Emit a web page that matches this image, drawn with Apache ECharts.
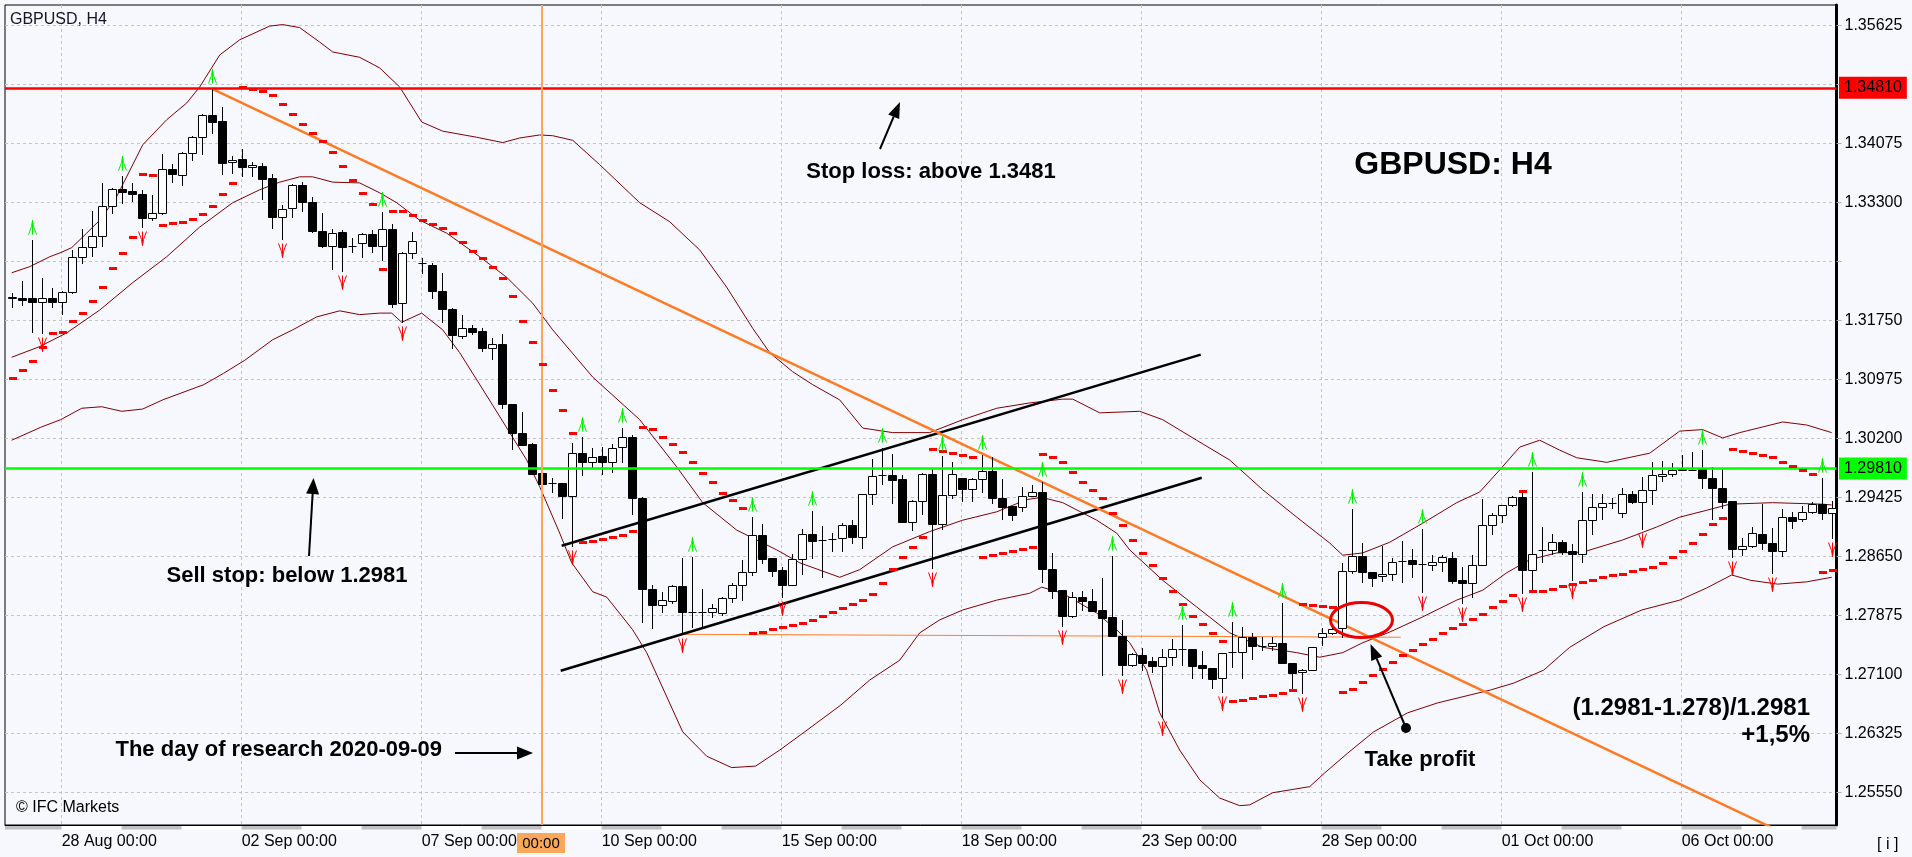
<!DOCTYPE html>
<html><head><meta charset="utf-8">
<script src="https://cdn.jsdelivr.net/npm/echarts@6/dist/echarts.min.js"></script>
<style>html,body{margin:0;padding:0;background:#f7f8fe;}#chart{width:1912px;height:857px;}</style>
</head><body><div id="chart"></div>
<script>
const FONT = '"Liberation Sans", Arial, sans-serif';

const dateTicks = [5, 23, 41, 59, 77, 95, 113, 131, 149, 167];
const dateLabels = ['28 Aug 00:00', '02 Sep 00:00', '07 Sep 00:00', '10 Sep 00:00', '15 Sep 00:00',
  '18 Sep 00:00', '23 Sep 00:00', '28 Sep 00:00', '01 Oct 00:00', '06 Oct 00:00'];
const priceGrid = [1.2555, 1.26325, 1.271, 1.27875, 1.2865, 1.29425, 1.302, 1.30975, 1.3175, 1.32525, 1.333, 1.34075, 1.3485, 1.35625];
const priceLabels = [1.2555, 1.26325, 1.271, 1.27875, 1.2865, 1.29425, 1.302, 1.30975, 1.3175, 1.333, 1.34075, 1.35625];
const dayBounds = [-1, 5, 11, 17, 23, 29, 35, 41, 47, 53, 59, 65, 71, 77, 83, 89, 95, 101, 107, 113, 119, 125, 131, 137, 143, 149, 155, 161, 167, 173, 179, 185];

const openP = [1.3205,1.3205,1.3205,1.3200,1.3205,1.3200,1.3213,1.3259,1.3272,1.3286,1.3326,1.3348,1.3345,1.3342,1.3310,1.3316,1.3374,1.3367,1.3395,1.3416,
1.3445,1.3437,1.3383,1.3387,1.3377,1.3378,1.3362,1.3311,1.3323,1.3353,1.3331,1.3293,1.3273,1.3292,1.3273,1.3277,1.3289,1.3273,1.3296,1.3198,
1.3264,1.3251,1.3248,1.3214,1.3190,1.3155,1.3166,1.3161,1.3139,1.3144,1.3065,1.3028,1.3013,1.2975,1.2962,1.2962,1.2945,1.3001,1.2989,1.2997,
1.2989,1.3009,1.3022,1.2942,1.2823,1.2802,1.2807,1.2827,1.2792,1.2792,1.2792,1.2791,1.2811,1.2828,1.2845,1.2894,1.2863,1.2847,1.2828,1.2862,
1.2895,1.2887,1.2888,1.2889,1.2907,1.2891,1.2947,1.2972,1.2972,1.2967,1.2911,1.2938,1.2974,1.2908,1.2946,1.2969,1.2954,1.2967,1.2978,1.2942,
1.2931,1.2930,1.2945,1.2950,1.2849,1.2821,1.2787,1.2812,1.2807,1.2795,1.2786,1.2761,1.2723,1.2736,1.2728,1.2722,1.2733,1.2744,1.2744,1.2723,
1.2719,1.2706,1.2740,1.2740,1.2760,1.2748,1.2748,1.2752,1.2725,1.2713,1.2716,1.2760,1.2765,1.2771,1.2846,1.2866,1.2845,1.2840,1.2842,1.2859,
1.2861,1.2855,1.2854,1.2858,1.2863,1.2834,1.2830,1.2854,1.2907,1.2920,1.2933,1.2944,1.2848,1.2874,1.2874,1.2884,1.2872,1.2869,1.2913,1.2930,
1.2936,1.2922,1.2947,1.2937,1.2953,1.2971,1.2974,1.2979,1.2979,1.2980,1.2969,1.2955,1.2938,1.2875,1.2879,1.2895,1.2883,1.2873,1.2917,1.2914,
1.2924,1.2934,1.2922];
const highP = [1.3211,1.3227,1.3281,1.3231,1.3218,1.3214,1.3268,1.3295,1.3319,1.3356,1.3349,1.3365,1.3356,1.3347,1.3340,1.3394,1.3381,1.3396,1.3418,1.3446,
1.3479,1.3456,1.3391,1.3401,1.3384,1.3382,1.3368,1.3327,1.3354,1.3357,1.3338,1.3316,1.3295,1.3294,1.3284,1.3290,1.3294,1.3318,1.3302,1.3265,
1.3292,1.3258,1.3251,1.3238,1.3192,1.3183,1.3170,1.3166,1.3152,1.3158,1.3065,1.3055,1.3014,1.2975,1.2968,1.2962,1.3014,1.3022,1.3008,1.3009,
1.3013,1.3034,1.3025,1.2943,1.2828,1.2819,1.2828,1.2863,1.2865,1.2823,1.2803,1.2812,1.2831,1.2861,1.2917,1.2908,1.2863,1.2851,1.2869,1.2901,
1.2925,1.2905,1.2896,1.2909,1.2913,1.2948,1.2993,1.3008,1.3000,1.2972,1.2940,1.2975,1.2980,1.2997,1.2989,1.2969,1.2968,1.2999,1.2996,1.2967,
1.2931,1.2957,1.2959,1.2963,1.2870,1.2821,1.2819,1.2820,1.2823,1.2837,1.2866,1.2782,1.2739,1.2745,1.2733,1.2744,1.2757,1.2775,1.2744,1.2741,
1.2719,1.2739,1.2779,1.2773,1.2765,1.2760,1.2760,1.2804,1.2725,1.2717,1.2746,1.2772,1.2775,1.2857,1.2928,1.2883,1.2845,1.2879,1.2863,1.2886,
1.2875,1.2901,1.2867,1.2867,1.2871,1.2852,1.2867,1.2941,1.2922,1.2933,1.2945,1.2953,1.2976,1.2904,1.2895,1.2887,1.2882,1.2950,1.2947,1.2947,
1.2942,1.2955,1.2951,1.2970,1.2989,1.2991,1.2988,1.2999,1.3003,1.3005,1.2983,1.2980,1.2938,1.2890,1.2904,1.2934,1.2903,1.2928,1.2924,1.2932,
1.2937,1.2968,1.2938];
const lowP = [1.3193,1.3196,1.3160,1.3159,1.3193,1.3184,1.3212,1.3251,1.3260,1.3273,1.3316,1.3330,1.3332,1.3298,1.3307,1.3315,1.3357,1.3353,1.3386,1.3394,
1.3422,1.3368,1.3369,1.3365,1.3365,1.3335,1.3297,1.3282,1.3311,1.3319,1.3292,1.3272,1.3243,1.3240,1.3265,1.3259,1.3265,1.3255,1.3193,1.3173,
1.3258,1.3238,1.3205,1.3173,1.3139,1.3152,1.3158,1.3135,1.3125,1.3060,1.3007,1.3012,1.2974,1.2950,1.2950,1.2916,1.2879,1.2972,1.2983,1.2974,
1.2976,1.2989,1.2921,1.2779,1.2771,1.2792,1.2804,1.2764,1.2773,1.2771,1.2786,1.2789,1.2806,1.2808,1.2841,1.2857,1.2840,1.2812,1.2828,1.2842,
1.2863,1.2838,1.2873,1.2873,1.2883,1.2877,1.2934,1.2961,1.2936,1.2911,1.2900,1.2921,1.2850,1.2901,1.2942,1.2938,1.2938,1.2950,1.2936,1.2915,
1.2913,1.2925,1.2945,1.2832,1.2811,1.2774,1.2786,1.2795,1.2794,1.2710,1.2761,1.2709,1.2722,1.2716,1.2714,1.2655,1.2723,1.2723,1.2706,1.2706,
1.2693,1.2687,1.2720,1.2706,1.2731,1.2743,1.2743,1.2725,1.2693,1.2686,1.2716,1.2749,1.2764,1.2760,1.2844,1.2832,1.2826,1.2833,1.2834,1.2832,
1.2838,1.2819,1.2848,1.2846,1.2830,1.2804,1.2812,1.2854,1.2895,1.2911,1.2932,1.2817,1.2821,1.2858,1.2869,1.2869,1.2834,1.2858,1.2895,1.2915,
1.2929,1.2917,1.2936,1.2901,1.2934,1.2964,1.2971,1.2979,1.2979,1.2955,1.2915,1.2929,1.2865,1.2867,1.2878,1.2875,1.2844,1.2866,1.2903,1.2912,
1.2922,1.2915,1.2890];
const closeP = [1.3206,1.3202,1.3200,1.3205,1.3200,1.3213,1.3259,1.3272,1.3286,1.3326,1.3348,1.3344,1.3342,1.3310,1.3316,1.3374,1.3368,1.3395,1.3416,1.3445,
1.3436,1.3382,1.3386,1.3377,1.3380,1.3361,1.3311,1.3322,1.3353,1.3331,1.3293,1.3273,1.3290,1.3272,1.3273,1.3289,1.3273,1.3295,1.3197,1.3264,
1.3280,1.3251,1.3214,1.3190,1.3156,1.3166,1.3160,1.3139,1.3144,1.3066,1.3028,1.3012,1.2974,1.2961,1.2962,1.2945,1.3001,1.2989,1.2996,1.2989,
1.3008,1.3022,1.2942,1.2823,1.2802,1.2808,1.2827,1.2792,1.2792,1.2792,1.2798,1.2811,1.2828,1.2845,1.2894,1.2862,1.2846,1.2828,1.2862,1.2895,
1.2886,1.2887,1.2888,1.2907,1.2891,1.2947,1.2971,1.2972,1.2966,1.2911,1.2938,1.2974,1.2908,1.2946,1.2974,1.2954,1.2967,1.2978,1.2942,1.2930,
1.2920,1.2945,1.2950,1.2849,1.2820,1.2787,1.2812,1.2807,1.2794,1.2785,1.2761,1.2723,1.2737,1.2725,1.2722,1.2733,1.2744,1.2744,1.2722,1.2719,
1.2704,1.2739,1.2740,1.2760,1.2748,1.2748,1.2752,1.2725,1.2712,1.2716,1.2746,1.2765,1.2770,1.2846,1.2866,1.2845,1.2837,1.2842,1.2858,1.2859,
1.2855,1.2855,1.2858,1.2865,1.2833,1.2830,1.2854,1.2907,1.2920,1.2933,1.2944,1.2848,1.2869,1.2874,1.2884,1.2871,1.2869,1.2913,1.2930,1.2936,
1.2936,1.2947,1.2937,1.2953,1.2972,1.2974,1.2979,1.2980,1.2979,1.2969,1.2955,1.2937,1.2875,1.2879,1.2896,1.2883,1.2873,1.2917,1.2912,1.2924,
1.2934,1.2922,1.2929];
const sarP = [1.3100,1.3110,1.3122,1.3141,1.3159,1.3160,1.3175,1.3185,1.3201,1.3219,1.3244,1.3264,1.3285,1.3368,1.3366,1.3301,1.3303,1.3305,1.3309,1.3315,
1.3326,1.3342,1.3356,1.3482,1.3479,1.3477,1.3472,1.3460,1.3447,1.3433,1.3422,1.3411,1.3397,1.3378,1.3360,1.3343,1.3328,1.3243,1.3319,1.3319,
1.3314,1.3307,1.3302,1.3297,1.3290,1.3278,1.3267,1.3257,1.3246,1.3231,1.3208,1.3175,1.3147,1.3118,1.3084,1.3058,1.3028,1.2884,1.2886,1.2888,
1.2891,1.2894,1.2899,1.3035,1.3033,1.3022,1.3013,1.3003,1.2989,1.2975,1.2963,1.2949,1.2940,1.2929,1.2765,1.2766,1.2770,1.2773,1.2775,1.2778,
1.2782,1.2787,1.2792,1.2798,1.2803,1.2808,1.2816,1.2831,1.2849,1.2865,1.2878,1.2891,1.3007,1.3004,1.3001,1.2999,1.2996,1.2865,1.2867,1.2870,
1.2873,1.2875,1.2878,1.3000,1.2996,1.2989,1.2976,1.2963,1.2953,1.2942,1.2922,1.2907,1.2887,1.2870,1.2854,1.2837,1.2820,1.2803,1.2787,1.2777,
1.2765,1.2754,1.2676,1.2677,1.2679,1.2682,1.2683,1.2686,1.2690,1.2803,1.2802,1.2800,1.2799,1.2687,1.2691,1.2700,1.2710,1.2718,1.2727,1.2736,
1.2743,1.2750,1.2757,1.2765,1.2771,1.2777,1.2783,1.2790,1.2799,1.2807,1.2815,1.2951,1.2820,1.2820,1.2823,1.2827,1.2829,1.2832,1.2834,1.2838,
1.2841,1.2842,1.2846,1.2849,1.2852,1.2857,1.2865,1.2873,1.2883,1.2895,1.2908,1.2916,1.3007,1.3004,1.3001,1.2999,1.2996,1.2989,1.2984,1.2979,
1.2974,1.2845,1.2848];
const fractalUpBars = [2, 11, 20, 37, 57, 61, 68, 74, 80, 87, 93, 97, 103, 110, 117, 122, 127, 134, 141, 152, 157, 169, 181];
const fractalDownBars = [3, 13, 27, 33, 39, 56, 67, 77, 92, 105, 111, 115, 121, 129, 141, 145, 151, 156, 163, 172, 176, 182];

const bbUpper = [[0,1.3238],[1.8,1.3246],[3.8,1.3259],[5,1.3265],[6,1.3271],[7.5,1.3290],[8.8,1.3307],[10.5,1.3338],[13.1,1.3406],[15.5,1.3439],[17.5,1.3461],[18.8,1.3482],[20.8,1.3524],[22.8,1.3544],[25.8,1.3562],[27.1,1.3564],[28.8,1.3560],[30.8,1.3541],[32.1,1.3528],[34.8,1.3521],[36.8,1.3507],[38.8,1.3482],[41,1.3436],[43.1,1.3424],[46.5,1.3416],[49.1,1.3409],[50.8,1.3415],[52.8,1.3419],[54.1,1.3418],[56.1,1.3412],[58.8,1.3380],[62.8,1.3330],[65.8,1.3305],[68.8,1.3268],[71.5,1.3219],[74.1,1.3165],[75.8,1.3133],[78.1,1.3108],[80.1,1.3091],[82.8,1.3071],[85.1,1.3034],[88.1,1.3028],[91.8,1.3028],[95.1,1.3045],[98.5,1.3060],[101.8,1.3067],[105.1,1.3072],[106.1,1.3072],[108.8,1.3054],[112.8,1.3056],[115.1,1.3045],[118.5,1.3018],[121.8,1.2992],[125.1,1.2953],[128.5,1.2917],[131.8,1.2883],[133.1,1.2867],[135.1,1.2870],[137.8,1.2884],[141.1,1.2909],[144.5,1.2936],[146.8,1.2950],[148.8,1.2979],[150.8,1.3009],[152.8,1.3018],[154.8,1.3005],[156.5,1.2995],[159.5,1.2989],[163.8,1.3001],[166.8,1.3030],[169.1,1.3032],[171.1,1.3021],[172.8,1.3028],[177.1,1.3042],[179.5,1.3038],[182,1.3028]];
const bbMiddle = [[0,1.3127],[2.8,1.3141],[5.5,1.3159],[8.8,1.3189],[12.1,1.3225],[15.5,1.3259],[18.8,1.3298],[22.1,1.3330],[24.8,1.3347],[26.8,1.3357],[28.8,1.3364],[30.1,1.3364],[32.1,1.3357],[34.8,1.3356],[36.8,1.3343],[38.5,1.3330],[40.8,1.3307],[43.5,1.3290],[46.8,1.3259],[49.5,1.3232],[52.1,1.3198],[54.1,1.3163],[58.1,1.3101],[62.8,1.3045],[66.5,1.2983],[69.1,1.2936],[72.5,1.2900],[76.5,1.2874],[78.8,1.2857],[82.8,1.2838],[84.8,1.2848],[88.1,1.2878],[91.8,1.2898],[95.1,1.2913],[98.5,1.2924],[101.5,1.2940],[103,1.2943],[105.1,1.2936],[108.5,1.2913],[110.5,1.2896],[111.8,1.2874],[115.1,1.2834],[118.5,1.2799],[121.8,1.2765],[125.1,1.2746],[128.5,1.2739],[130.8,1.2733],[133.1,1.2739],[135.1,1.2752],[137.8,1.2766],[141.1,1.2786],[144.5,1.2808],[147.1,1.2821],[149.5,1.2844],[151.8,1.2861],[154.5,1.2870],[157.1,1.2871],[161.1,1.2887],[164.5,1.2904],[166.8,1.2917],[169.5,1.2926],[171.8,1.2934],[176.1,1.2936],[181.1,1.2934],[182,1.2933]];
const bbLower = [[0,1.3018],[2.9,1.3035],[4.9,1.3045],[7,1.3060],[9,1.3062],[11,1.3056],[13.1,1.3059],[15.1,1.3071],[19.2,1.3091],[21.2,1.3106],[23.3,1.3123],[26.1,1.3150],[28.1,1.3163],[30.5,1.3180],[32.8,1.3188],[34.8,1.3183],[36.8,1.3185],[38,1.3185],[39,1.3173],[41,1.3185],[43.1,1.3163],[44.8,1.3133],[48.1,1.3064],[51.5,1.2992],[52.8,1.2957],[54.8,1.2896],[56,1.2857],[58.1,1.2819],[59.5,1.2812],[62.1,1.2769],[63.5,1.2739],[67.1,1.2635],[69.5,1.2603],[72,1.2588],[74.4,1.2590],[76.8,1.2611],[79.3,1.2635],[82.9,1.2670],[85.8,1.2703],[88.8,1.2729],[90.8,1.2765],[92.8,1.2782],[95.1,1.2795],[98.5,1.2808],[101.8,1.2817],[103,1.2825],[105.1,1.2817],[108.5,1.2791],[110.5,1.2769],[111.8,1.2752],[113.5,1.2716],[114.8,1.2660],[116.8,1.2611],[118.8,1.2572],[120.8,1.2548],[122.8,1.2538],[123.8,1.2539],[126.1,1.2555],[129.8,1.2563],[131.3,1.2581],[133.6,1.2607],[136.2,1.2635],[139.6,1.2660],[142.6,1.2673],[147.9,1.2690],[150.2,1.2699],[153.2,1.2716],[155.8,1.2746],[159.2,1.2773],[163,1.2795],[166.8,1.2808],[169.5,1.2824],[172,1.2841],[173.9,1.2834],[176.6,1.2829],[179.5,1.2832],[182,1.2838]];

const trendLine = [[20, 1.3480], [177, 1.2503]];
const channelUpper = [[55, 1.28795], [118.9, 1.31304]];
const channelLower = [[54.9, 1.27153], [119, 1.29688]];
const takeProfitLine = [[67, 1.27631], [138.9, 1.27592]];
const stopLossLevel = 1.3481;
const sellStopLevel = 1.2981;
const hiddenTick = 1.32525;
const researchBar = 53;

const Y_MIN = 1.25126, Y_MAX = 1.35897, X_MIN = -0.67, X_MAX = 182.48;

const candleData = openP.map((o, i) => [i, o, closeP[i], lowP[i], highP[i]]);
const sarData = sarP.map((v, i) => [i, v]);
const fractalData = fractalUpBars.map(i => [i, highP[i], 1]).concat(fractalDownBars.map(i => [i, lowP[i], -1]));
const stripData = [];
for (let k = 0; k < dayBounds.length - 1; k++) stripData.push([dayBounds[k], dayBounds[k + 1], k % 2]);

const chart = echarts.init(document.getElementById('chart'), null, {renderer: 'canvas'});

function lineSeries(name, data, color, width) {
  return {type: 'line', name, data, symbol: 'none', silent: true, clip: true,
    lineStyle: {color, width}, itemStyle: {color}, z: 3};
}
function levelLabel(text, bg, fg) {
  return {show: true, position: 'end', formatter: text, backgroundColor: bg, color: fg,
    padding: [3, 5, 3, 5], fontSize: 16, lineHeight: 16, distance: 2.5, fontFamily: FONT};
}

const option = {
  animation: false,
  backgroundColor: '#f7f8fe',
  textStyle: {fontFamily: FONT},
  grid: {left: 5, right: 75.5, top: 5, bottom: 32, show: true, borderColor: '#000', borderWidth: 1, backgroundColor: 'transparent'},
  xAxis: {
    type: 'value', min: X_MIN, max: X_MAX,
    axisLine: {show: true, onZero: false, lineStyle: {color: '#000', width: 1}},
    axisTick: {show: false, customValues: dateTicks},
    axisLabel: {customValues: dateTicks, formatter: v => dateLabels[dateTicks.indexOf(Math.round(v))] || '',
      align: 'left', margin: 9, color: '#000', fontSize: 16, fontFamily: FONT},
    splitLine: {show: true, lineStyle: {color: '#c4c4c4', width: 1, type: [3, 3]}}
  },
  yAxis: {
    type: 'value', position: 'right', min: Y_MIN, max: Y_MAX, scale: true,
    axisLine: {show: true, onZero: false, lineStyle: {color: '#000', width: 3}},
    axisTick: {show: true, length: 5, lineStyle: {color: '#aaa'}, customValues: priceGrid},
    axisLabel: {customValues: priceLabels, formatter: v => v.toFixed(5), color: '#000', fontSize: 16, margin: 8, fontFamily: FONT},
    splitLine: {show: true, lineStyle: {color: '#c4c4c4', width: 1, type: [3, 3]}}
  },
  series: [
    lineSeries('BB upper', bbUpper, '#800000', 1),
    lineSeries('BB middle', bbMiddle, '#800000', 1),
    lineSeries('BB lower', bbLower, '#800000', 1),
    {
      type: 'custom', name: 'GBPUSD', data: candleData, silent: true, z: 4,
      encode: {x: 0, y: [1, 2, 3, 4]},
      renderItem(params, api) {
        const i = api.value(0), o = api.value(1), c = api.value(2), l = api.value(3), h = api.value(4);
        const pO = api.coord([i, o]), pC = api.coord([i, c]), pH = api.coord([i, h]), pL = api.coord([i, l]);
        const xc = Math.round(pO[0]) + 0.5;
        const yTop = Math.round(Math.min(pO[1], pC[1])) + 0.5;
        const yBot = Math.round(Math.max(pO[1], pC[1])) + 0.5;
        const children = [{type: 'line', shape: {x1: xc, y1: Math.round(pH[1]), x2: xc, y2: Math.round(pL[1]) + 1},
          style: {stroke: '#000', lineWidth: 1}}];
        if (yBot - yTop < 1) {
          children.push({type: 'line', shape: {x1: xc - 4, y1: yTop, x2: xc + 4, y2: yTop}, style: {stroke: '#000', lineWidth: 1}});
        } else {
          children.push({type: 'rect', shape: {x: xc - 4, y: yTop, width: 8, height: yBot - yTop},
            style: {fill: c >= o ? '#ffffff' : '#000000', stroke: '#000', lineWidth: 1}});
        }
        return {type: 'group', children};
      }
    },
    {
      type: 'custom', name: 'Parabolic SAR', data: sarData, silent: true, z: 5,
      encode: {x: 0, y: 1},
      renderItem(params, api) {
        const p = api.coord([api.value(0), api.value(1)]);
        return {type: 'rect', shape: {x: Math.round(p[0]) - 3, y: Math.round(p[1]) - 1, width: 8, height: 3}, style: {fill: '#ff0000'}};
      }
    },
    {
      type: 'custom', name: 'Fractals', data: fractalData, silent: true, z: 5,
      encode: {x: 0, y: 1},
      renderItem(params, api) {
        const p = api.coord([api.value(0), api.value(1)]);
        const up = api.value(2) > 0;
        const cx = Math.round(p[0]) + 0.5;
        const cy = Math.round(p[1] + (up ? -13 : 11)) + 0.5;
        const s = up ? 1 : -1;
        const P = (dx, dy) => [cx + dx, cy + dy * s];
        const color = up ? '#00ee00' : '#ff0000';
        return {type: 'group', children: [
          {type: 'polyline', shape: {points: [P(-4, 7), P(-1, -1), P(0, -7), P(1, -1), P(4, 7)]}, style: {fill: 'none', stroke: color, lineWidth: 1}},
          {type: 'line', shape: {x1: cx, y1: cy - 7 * s, x2: cx, y2: cy + 7 * s}, style: {stroke: color, lineWidth: 1}}
        ]};
      }
    },
    lineSeries('Take profit level', takeProfitLine, '#ff7f27', 1),
    lineSeries('Channel upper', channelUpper, '#000000', 2.5),
    lineSeries('Channel lower', channelLower, '#000000', 2.5),
    lineSeries('Trend line', trendLine, '#ff7a22', 2.5),
    {
      type: 'line', name: 'Levels', data: [], silent: true, z: 6,
      markLine: {
        symbol: 'none', silent: true, animation: false, precision: 5,
        data: [
          {yAxis: stopLossLevel, lineStyle: {color: '#ff0000', width: 2.5, type: 'solid'}, label: levelLabel('1.34810', '#ff0000', '#000')},
          {yAxis: sellStopLevel, lineStyle: {color: '#00ff00', width: 2.5, type: 'solid'}, label: levelLabel('1.29810', '#00ff00', '#000')},
          {yAxis: hiddenTick, lineStyle: {opacity: 0}, label: levelLabel('1.32525', '#ffffff', '#ffffff')},
          {xAxis: researchBar, lineStyle: {color: '#ffa555', width: 2, type: 'solid'}, label: {show: false}}
        ]
      }
    },
    {
      type: 'custom', name: 'Day strip', data: stripData, silent: true, clip: false, z: 2,
      encode: {x: [0, 1]},
      renderItem(params, api) {
        const cs = params.coordSys;
        const a = api.coord([api.value(0), Y_MIN]), b = api.coord([api.value(1), Y_MIN]);
        const x1 = Math.max(a[0], cs.x), x2 = Math.min(b[0], cs.x + cs.width);
        if (x2 <= x1) return null;
        return {type: 'rect', shape: {x: x1, y: a[1] + 1, width: x2 - x1, height: 3.5},
          style: {fill: api.value(2) === 0 ? '#c0c0c0' : '#ffffff'}};
      }
    }
  ],
  graphic: [
    {type: 'text', x: 10, y: 20, z: 50, style: {text: 'GBPUSD, H4', font: '16px ' + FONT, fill: '#15152a', textVerticalAlign: 'middle', verticalAlign: 'middle'}},
    {type: 'text', x: 16, y: 808, z: 50, style: {text: '\u00a9 IFC Markets', font: '16px ' + FONT, fill: '#000', textVerticalAlign: 'middle', verticalAlign: 'middle'}},
    {type: 'text', x: 1877, y: 845, z: 50, style: {text: '[ i ]', font: '16px ' + FONT, fill: '#000', textVerticalAlign: 'middle', verticalAlign: 'middle'}},
    {type: 'rect', z: 50, shape: {x: 517, y: 833, width: 48, height: 20}, style: {fill: '#f8a858'}},
    {type: 'text', x: 541, y: 843.5, z: 51, style: {text: '00:00', font: '15px ' + FONT, fill: '#000', textAlign: 'center', align: 'center', textVerticalAlign: 'middle', verticalAlign: 'middle'}},

    {type: 'text', x: 1453, y: 165, z: 50, style: {text: 'GBPUSD: H4', font: 'bold 32px ' + FONT, fill: '#000', textAlign: 'center', align: 'center', textVerticalAlign: 'middle', verticalAlign: 'middle'}},
    {type: 'text', x: 931, y: 172, z: 50, style: {text: 'Stop loss: above 1.3481', font: 'bold 22px ' + FONT, fill: '#000', textAlign: 'center', align: 'center', textVerticalAlign: 'middle', verticalAlign: 'middle'}},
    {type: 'text', x: 287, y: 576, z: 50, style: {text: 'Sell stop: below 1.2981', font: 'bold 22px ' + FONT, fill: '#000', textAlign: 'center', align: 'center', textVerticalAlign: 'middle', verticalAlign: 'middle'}},
    {type: 'text', x: 442, y: 750, z: 50, style: {text: 'The day of research 2020-09-09', font: 'bold 22px ' + FONT, fill: '#000', textAlign: 'right', align: 'right', textVerticalAlign: 'middle', verticalAlign: 'middle'}},
    {type: 'text', x: 1420, y: 760, z: 50, style: {text: 'Take profit', font: 'bold 22px ' + FONT, fill: '#000', textAlign: 'center', align: 'center', textVerticalAlign: 'middle', verticalAlign: 'middle'}},
    {type: 'text', x: 1810, y: 708, z: 50, style: {text: '(1.2981-1.278)/1.2981', font: 'bold 24px ' + FONT, fill: '#000', textAlign: 'right', align: 'right', textVerticalAlign: 'middle', verticalAlign: 'middle'}},
    {type: 'text', x: 1810, y: 735, z: 50, style: {text: '+1,5%', font: 'bold 24px ' + FONT, fill: '#000', textAlign: 'right', align: 'right', textVerticalAlign: 'middle', verticalAlign: 'middle'}},

    {type: 'line', z: 50, shape: {x1: 880, y1: 149, x2: 893.7, y2: 116.7}, style: {stroke: '#000', lineWidth: 2}},
    {type: 'polygon', z: 50, shape: {points: [[900, 102], [899.2, 119.1], [888.2, 114.4]]}, style: {fill: '#000'}},
    {type: 'line', z: 50, shape: {x1: 309, y1: 556, x2: 312.6, y2: 494}, style: {stroke: '#000', lineWidth: 2}},
    {type: 'polygon', z: 50, shape: {points: [[313.5, 478], [319.1, 494.4], [306.1, 493.6]]}, style: {fill: '#000'}},
    {type: 'line', z: 50, shape: {x1: 1406, y1: 728, x2: 1376.7, y2: 658.7}, style: {stroke: '#000', lineWidth: 2}},
    {type: 'polygon', z: 50, shape: {points: [[1370.5, 644], [1382.2, 656.4], [1371.2, 661.0]]}, style: {fill: '#000'}},
    {type: 'circle', z: 50, shape: {cx: 1406, cy: 728, r: 5}, style: {fill: '#000'}},
    {type: 'line', z: 50, shape: {x1: 455, y1: 753, x2: 518, y2: 753}, style: {stroke: '#000', lineWidth: 2}},
    {type: 'polygon', z: 50, shape: {points: [[533, 753], [517, 746.5], [517, 759.5]]}, style: {fill: '#000'}},
    {type: 'ellipse', z: 50, shape: {cx: 1361.5, cy: 620, rx: 31, ry: 17.5}, style: {fill: 'none', stroke: '#ee0000', lineWidth: 3}}
  ]
};
chart.setOption(option);
</script>
</body></html>
